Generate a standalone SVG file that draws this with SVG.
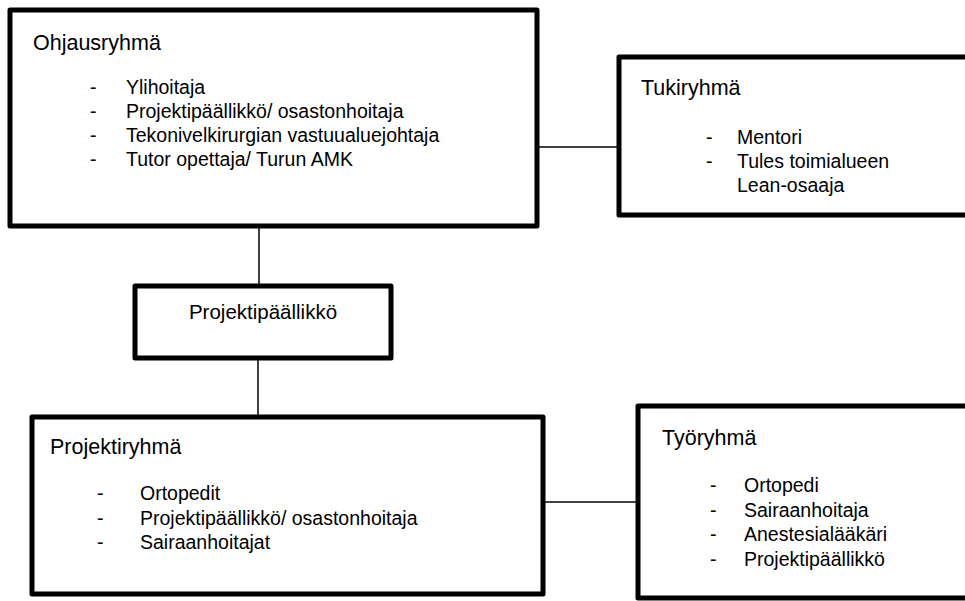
<svg xmlns="http://www.w3.org/2000/svg" width="965" height="601" viewBox="0 0 965 601">
<style>
.box{fill:#fff;stroke:#000;stroke-width:5;stroke-linejoin:round}
.ln{stroke:#000;stroke-width:1.5;fill:none}
.t{font-family:"Liberation Sans",Arial,sans-serif;fill:#000}
.h{font-size:21.5px}
.i{font-size:19.5px}
</style>
<rect width="965" height="601" fill="#fff"/>
<g id="connectors">
<line class="ln" x1="537" y1="147" x2="619" y2="147"/>
<line class="ln" x1="259" y1="226" x2="259" y2="286"/>
<line class="ln" x1="258" y1="358" x2="258" y2="417"/>
<line class="ln" x1="543" y1="502" x2="638" y2="502"/>
</g>
<g id="ohjausryhma">
<rect class="box" x="10" y="10" width="527" height="216"/>
<text class="t h" x="33" y="50">Ohjausryhmä</text>
<g class="t i">
<text x="90" y="94">-</text><text x="126" y="94">Ylihoitaja</text>
<text x="90" y="118">-</text><text x="126" y="118">Projektipäällikkö/ osastonhoitaja</text>
<text x="90" y="142">-</text><text x="126" y="142">Tekonivelkirurgian vastuualuejohtaja</text>
<text x="90" y="166">-</text><text x="126" y="166">Tutor opettaja/ Turun AMK</text>
</g>
</g>
<g id="tukiryhma">
<rect class="box" x="619" y="57" width="360" height="158"/>
<text class="t h" x="641" y="95">Tukiryhmä</text>
<g class="t i">
<text x="706" y="144">-</text><text x="737" y="144">Mentori</text>
<text x="706" y="168">-</text><text x="737" y="168">Tules toimialueen</text>
<text x="737" y="192">Lean-osaaja</text>
</g>
</g>
<g id="projektipaallikko">
<rect class="box" x="135" y="286" width="256" height="72"/>
<text class="t" font-size="20.5" x="263" y="319" text-anchor="middle">Projektipäällikkö</text>
</g>
<g id="projektiryhma">
<rect class="box" x="32" y="417" width="511" height="177"/>
<text class="t h" x="50" y="454">Projektiryhmä</text>
<g class="t i">
<text x="97" y="500">-</text><text x="140" y="500">Ortopedit</text>
<text x="97" y="525">-</text><text x="140" y="525">Projektipäällikkö/ osastonhoitaja</text>
<text x="97" y="549">-</text><text x="140" y="549">Sairaanhoitajat</text>
</g>
</g>
<g id="tyoryhma">
<rect class="box" x="638" y="406" width="340" height="192"/>
<text class="t h" x="662" y="445">Työryhmä</text>
<g class="t i">
<text x="710" y="492">-</text><text x="744" y="492">Ortopedi</text>
<text x="710" y="517">-</text><text x="744" y="517">Sairaanhoitaja</text>
<text x="710" y="541">-</text><text x="744" y="541">Anestesialääkäri</text>
<text x="710" y="566">-</text><text x="744" y="566">Projektipäällikkö</text>
</g>
</g>
</svg>
